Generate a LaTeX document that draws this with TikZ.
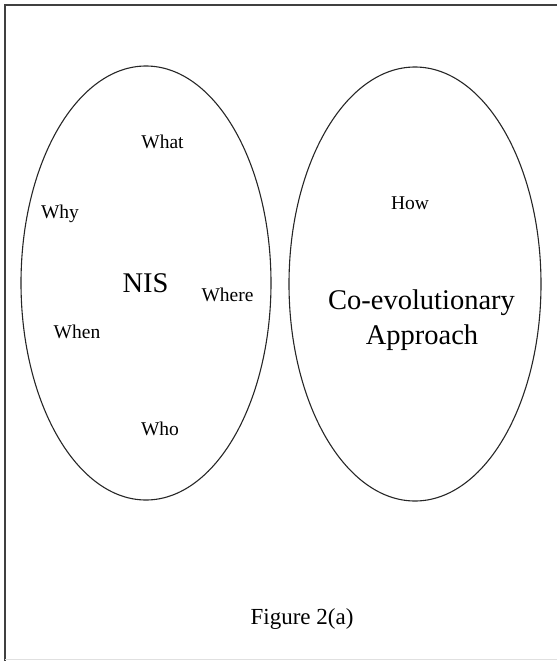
\documentclass[tikz,border=0pt]{standalone}
\usepackage{fontspec}
\setmainfont{Liberation Serif}
\begin{document}
\begin{tikzpicture}[x=1pt,y=-1pt,
  setring/.style={draw=black!85,line width=1.1pt},
  small/.style={anchor=base,inner sep=0pt,font=\fontsize{19.5}{22}\selectfont},
  big/.style={anchor=base,inner sep=0pt,font=\fontsize{28.5}{35}\selectfont},
  caption/.style={anchor=base,inner sep=0pt,font=\fontsize{23}{26}\selectfont}]
  \useasboundingbox (0,0) rectangle (557,661);
  % frame
  \draw[black!75,line width=2pt] (5,661) -- (5,5) -- (557,5);
  \draw[black!12,line width=1pt] (5,659.5) -- (557,659.5);
  % the two sets
  \draw[setring] (146,283) ellipse [x radius=125, y radius=217];
  \draw[setring] (415,284) ellipse [x radius=126, y radius=217];
  % left set
  \node[small] (what)  at (162.5,148) {What};
  \node[small] (why)   at (60,218)    {Why};
  \node[big]   (nis)   at (145.5,292.5) {NIS};
  \node[small] (where) at (227.5,301.5) {Where};
  \node[small] (when)  at (77,338)    {When};
  \node[small] (who)   at (160,435.5) {Who};
  % right set
  \node[small] (how)   at (410,209)   {How};
  \node[big]   (coevo) at (421.5,309) {Co-evolutionary};
  \node[big]   (appr)  at (422,344)   {Approach};
  % caption
  \node[caption] (cap) at (302,624) {Figure 2(a)};
\end{tikzpicture}
\end{document}
